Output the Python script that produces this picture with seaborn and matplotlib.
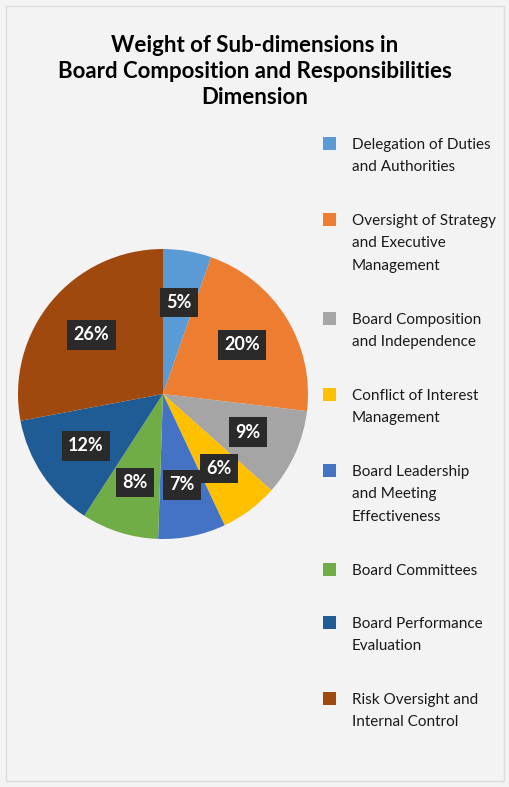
import matplotlib
matplotlib.use("Agg")
import matplotlib.pyplot as plt
from matplotlib.patches import Rectangle
import numpy as np
import seaborn as sns

categories = [
    "Delegation of Duties\nand Authorities",
    "Oversight of Strategy\nand Executive\nManagement",
    "Board Composition\nand Independence",
    "Conflict of Interest\nManagement",
    "Board Leadership\nand Meeting\nEffectiveness",
    "Board Committees",
    "Board Performance\nEvaluation",
    "Risk Oversight and\nInternal Control",
]
values = [5, 20, 9, 6, 7, 8, 12, 26]
pct_labels = [f"{v}%" for v in values]
colors = ["#5B9BD5", "#ED7D31", "#A5A5A5", "#FFC000",
          "#4472C4", "#70AD47", "#1F5B94", "#A0490E"]
title = "Weight of Sub-dimensions in\nBoard Composition and Responsibilities\nDimension"

sns.set_theme(style="white")
plt.rcParams["font.family"] = ["Lato", "DejaVu Sans"]
palette = sns.color_palette(colors)

W, H = 510, 787
fig = plt.figure(figsize=(W / 100, H / 100), dpi=100)
fig.patch.set_facecolor("#f3f3f3")
fig.patches.append(Rectangle((0.012, 0.008), 0.976, 0.984, transform=fig.transFigure,
                             fill=False, ec="#dcdcdc", lw=1.0))

cx, cy, r = 163, 394, 145
ax = fig.add_axes([(cx - r) / W, (H - cy - r) / H, 2 * r / W, 2 * r / H])
ax.set_facecolor("none")
wedges, _ = ax.pie(values, colors=palette, startangle=90, counterclock=False,
                   wedgeprops=dict(linewidth=0))
ax.set_xlim(-1, 1)
ax.set_ylim(-1, 1)
ax.set_aspect("equal")
ax.axis("off")

total = sum(values)
ang = 90.0
for v, lab in zip(values, pct_labels):
    span = 360.0 * v / total
    mid = np.deg2rad(ang - span / 2)
    d = 0.64
    ax.text(d * np.cos(mid), d * np.sin(mid), lab, ha="center", va="center",
            color="white", fontsize=13, fontweight="bold",
            bbox=dict(boxstyle="square,pad=0.35", fc="#2a2a2a", ec="none"))
    ang -= span

fig.text(0.5, 1 - 35 / H, title, ha="center", va="top", fontsize=16,
         fontweight="bold", color="#000000", linespacing=1.28)

# legend (manual layout, handle aligned with first text line)
line_h = 23
gap = 30
y = 143
for lab, col in zip(categories, palette):
    n = lab.count("\n") + 1
    fig.patches.append(Rectangle((323 / W, 1 - (y + 7) / H), 13 / W, 13 / H,
                                 transform=fig.transFigure, fc=col, ec="none"))
    fig.text(352 / W, 1 - (y - 5) / H, lab, ha="left", va="top",
             fontsize=11, color="#1a1a1a", linespacing=1.77,
             transform=fig.transFigure)
    y += n * line_h + gap

fig.savefig("out.png", dpi=100, facecolor=fig.get_facecolor())
